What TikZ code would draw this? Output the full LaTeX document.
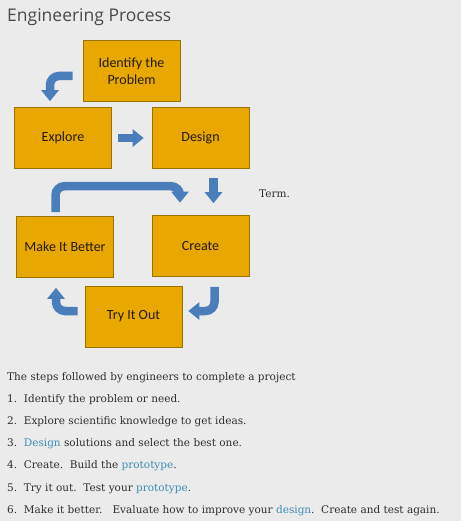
\documentclass[tikz,border=0pt]{standalone}
\usepackage{fontspec}
\usetikzlibrary{calc,arrows.meta}
\newfontfamily\titlefont{Open Sans}
\newfontfamily\boxfont{Carlito}
\newfontfamily\notefont{DejaVu Serif}
\definecolor{pagebg}{HTML}{EBEBEB}
\definecolor{boxfill}{HTML}{E9A800}
\definecolor{boxline}{HTML}{9A7400}
\definecolor{boxtext}{HTML}{241A00}
\definecolor{arrowblue}{HTML}{4A7EBB}
\definecolor{linkblue}{HTML}{3F8DB3}
\definecolor{titlegray}{HTML}{4A4A4A}
\definecolor{bodytext}{HTML}{2E2E2E}
\def\link#1{\textcolor{linkblue}{#1}}
\tikzset{
  stepbox/.style={draw=boxline, fill=boxfill, line width=0.6pt,
    minimum width=97pt, minimum height=61pt, inner sep=2pt,
    align=center, text=boxtext, font=\boxfont\fontsize{14}{17}\selectfont},
  flow/.style={draw=arrowblue, line width=8.5pt,
    -{Triangle[length=11pt,width=17pt]}},
  curvy/.style={flow, rounded corners=9pt},
}
\begin{document}
\begin{tikzpicture}[x=1pt,y=-1pt]
    \useasboundingbox (0,0) rectangle (461,521);
    \fill[pagebg] (0,0) rectangle (461,521);
    \node[anchor=base west, inner sep=0, text=titlegray,
      font=\titlefont\fontsize{17.5}{20}\selectfont] (title) at (7,22) {Engineering Process};
    % the six steps
    \node[stepbox] (ident) at (131.5,71) {Identify the\\Problem};
    \node[stepbox] (explore) at (63,138) {Explore};
    \node[stepbox] (design) at (200.5,138) {Design};
    \node[stepbox] (better) at (65,247) {Make It Better};
    \node[stepbox] (create) at (200.5,246) {Create};
    \node[stepbox] (tryout) at (133.5,316.5) {Try It Out};
    % arrows between them
    \draw[curvy] ($(ident.west)+(-10,5)$) -| ($(explore.north)+(-13,-6)$);
    \draw[flow] ($(explore.east)+(6,0)$) -- ($(design.west)+(-8,0)$);
    \draw[flow] ($(design.south)+(13,9)$) -- ($(create.north)+(13,-12)$);
    \draw[curvy] ($(better.north)+(-9.5,-4)$) |- ($(create.north)+(-20.5,-29)$)
      -- ($(create.north)+(-20.5,-12.5)$);
    \draw[curvy] ($(create.south)+(14,10)$) |- ($(tryout.east)+(6,-5.5)$);
    \draw[curvy] ($(tryout.west)+(-7,-5.5)$) -| ($(better.south)+(-9,10)$);
    \node[anchor=west, inner sep=0, text=bodytext,
      font=\notefont\fontsize{10.5}{12}\selectfont] (term) at (259,194) {Term.};
    % list below the diagram
    \node[anchor=north west, inner sep=0, align=left, text=bodytext,
      font=\notefont\fontsize{10.5}{22.2}\selectfont] (steps) at (7,372) {%
      The steps followed by engineers to complete a project\\
      1.\ \ Identify the problem or need.\\
      2.\ \ Explore scientific knowledge to get ideas.\\
      3.\ \ \link{Design} solutions and select the best one.\\
      4.\ \ Create.\ \ Build the \link{prototype}.\\
      5.\ \ Try it out.\ \ Test your \link{prototype}.\\
      6.\ \ Make it better.\ \ \ Evaluate how to improve your \link{design}.\ \ Create and test again.};
\end{tikzpicture}
\end{document}
